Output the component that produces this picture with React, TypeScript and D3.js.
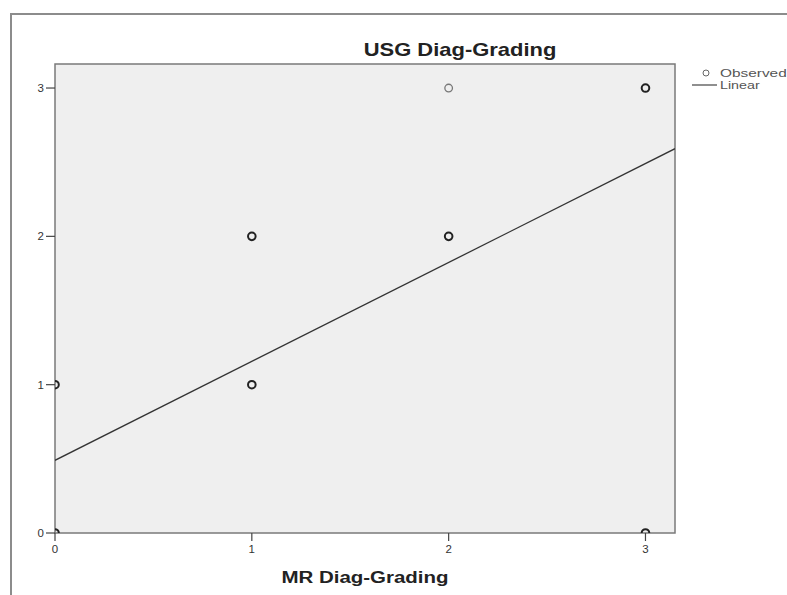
import React from 'react';
import * as d3 from 'd3';

// observed points (MR grade, USG grade), count = how many cases overlap there
const mrGrade = [0, 0, 1, 1, 2, 2, 3, 3];
const usgGrade = [0, 1, 1, 2, 2, 3, 3, 0];
const caseCount = [2, 3, 4, 3, 4, 1, 3, 2];

// linear fit
const fitIntercept = 0.49;
const fitSlope = 0.667;

const xTicks = [0, 1, 2, 3];
const yTicks = [0, 1, 2, 3];

const W = 787;
const H = 595;
const plot = { left: 55, top: 64, right: 675, bottom: 533 };
const font = '"Liberation Sans", Arial, sans-serif';

// the source picture is a bit stretched sideways, so text gets a horizontal scale
const Wide = ({ x, y, size, bold = false, fill = '#222', anchor = 'start', sx = 1.22, children }: any) => (
  <text transform={`translate(${x},${y}) scale(${sx},1)`} textAnchor={anchor} fontFamily={font}
    fontWeight={bold ? 'bold' : 'normal'} fontSize={size} fill={fill}>
    {children}
  </text>
);

const App = () => {
  const x = d3.scaleLinear().domain([0, 3.15]).range([plot.left, plot.right]);
  const y = d3.scaleLinear().domain([0, 3.162]).range([plot.bottom, plot.top]);

  const fitLine = d3.line<number>()
    .x(d => x(d))
    .y(d => y(fitIntercept + fitSlope * d))([0, 3.15]);

  const pts = mrGrade.map((m, i) => ({ m, u: usgGrade[i], n: caseCount[i] }));

  return (
    <svg width={W} height={H} style={{ position: 'absolute', left: 0, top: 0, display: 'block', background: '#fff' }}>
      <defs>
        <clipPath id="plotClip">
          <rect x={plot.left} y={plot.top} width={plot.right - plot.left} height={plot.bottom - plot.top} />
        </clipPath>
      </defs>

      {/* outer frame */}
      <path d={`M11,${H + 5} L11,14 L${W + 5},14`} fill="none" stroke="#8c8c8c" strokeWidth={2} />

      {/* plot area */}
      <rect x={plot.left} y={plot.top} width={plot.right - plot.left} height={plot.bottom - plot.top}
        fill="#efefef" stroke="#7a7a7a" strokeWidth={1.5} />

      {/* title */}
      <Wide x={460} y={56} size={18} bold anchor="middle">USG Diag-Grading</Wide>

      {/* y axis ticks */}
      {yTicks.map(t => (
        <g key={'y' + t}>
          <line x1={plot.left - 9} x2={plot.left} y1={y(t)} y2={y(t)} stroke="#444" strokeWidth={1.2} />
          <Wide x={plot.left - 11} y={y(t) + 4} size={10} fill="#333" anchor="end" sx={1.15}>{t}</Wide>
        </g>
      ))}

      {/* x axis ticks */}
      {xTicks.map(t => (
        <g key={'x' + t}>
          <line x1={x(t)} x2={x(t)} y1={plot.bottom} y2={plot.bottom + 8} stroke="#444" strokeWidth={1.2} />
          <Wide x={x(t)} y={plot.bottom + 20} size={10} fill="#333" anchor="middle" sx={1.15}>{t}</Wide>
        </g>
      ))}

      <Wide x={365} y={583} size={16} bold anchor="middle" sx={1.28}>MR Diag-Grading</Wide>

      <g clipPath="url(#plotClip)">
        <path d={fitLine ?? ''} fill="none" stroke="#333" strokeWidth={1.3} />
        {pts.map((p, i) => (
          <circle key={i} cx={x(p.m)} cy={y(p.u)} r={3.8} fill="none"
            stroke={p.n > 1 ? '#222' : '#777'} strokeWidth={p.n > 1 ? 2 : 1.3} />
        ))}
      </g>

      {/* legend */}
      <circle cx={706} cy={73} r={3} fill="none" stroke="#666" strokeWidth={1} />
      <Wide x={720} y={77} size={11} fill="#555" sx={1.4}>Observed</Wide>
      <line x1={692} x2={717} y1={85} y2={85} stroke="#444" strokeWidth={1.2} />
      <Wide x={720} y={89} size={11} fill="#555" sx={1.3}>Linear</Wide>
    </svg>
  );
};

export default App;
